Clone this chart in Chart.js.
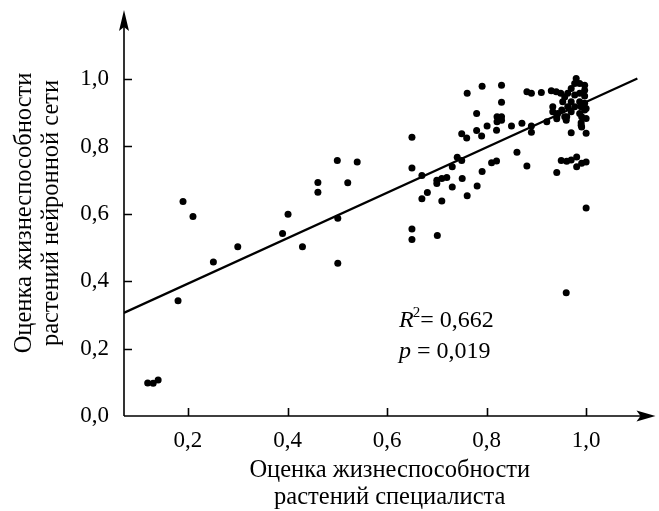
<!DOCTYPE html>
<html><head><meta charset="utf-8">
<script src="https://cdn.jsdelivr.net/npm/chart.js@4"></script>
<style>html,body{margin:0;padding:0;background:#fff}#wrap{width:659px;height:511px}</style>
</head><body><div id="wrap"><canvas id="c" width="659" height="511"></canvas></div>
<script>
// Specialist score (x) and neural-network score (y) for each plant
const specialist = [
 0.119,0.130,0.140,
 0.180,0.190,0.210,0.251,0.300,0.390,0.401,0.430,0.461,0.461,0.500,0.501,0.501,0.521,0.540,
 0.650,0.650,0.650,0.650,0.670,0.670,0.681,0.700,0.700,0.710,0.720,0.701,0.710,
 0.731,0.731,0.741,0.750,0.751,0.761,0.750,0.760,0.761,
 0.780,0.780,0.790,0.781,0.791,0.791,
 0.801,0.810,0.820,0.820,0.821,0.821,0.830,0.830,0.830,0.830,
 0.850,0.861,0.871,0.881,0.881,0.890,0.890,0.890,
 0.910,0.921,0.930,0.940,0.949,0.941,0.941,
 0.951,0.961,0.950,0.961,0.970,0.981,0.981,0.991,1.000,
 0.970,0.991,1.000,0.991,1.000,1.000,0.960,
 0.980,0.977,0.987,0.997,0.970,0.997,0.963,0.977,0.987,0.997,0.957,0.953,0.970,0.987,0.997,
 0.963,0.977,0.990,0.970,0.997,0.987,0.943,0.957,0.933,0.933,0.960,1.000,0.990,0.990,0.941
];
const network = [
 0.098,0.097,0.107,
 0.342,0.637,0.592,0.457,0.502,0.542,0.599,0.502,0.693,0.664,0.758,0.587,0.453,0.692,0.754,
 0.827,0.736,0.555,0.524,0.714,0.645,0.663,0.700,0.690,0.705,0.708,0.536,0.638,
 0.680,0.740,0.768,0.758,0.705,0.654,0.838,0.825,0.958,
 0.898,0.847,0.831,0.683,0.726,0.979,
 0.861,0.752,0.757,0.848,0.888,0.873,0.888,0.878,0.982,0.931,
 0.861,0.783,0.869,0.742,0.962,0.958,0.861,0.842,
 0.960,0.873,0.965,0.962,0.958,0.888,0.723,
 0.908,0.888,0.758,0.756,0.760,0.769,0.740,0.750,0.754,
 0.841,0.858,0.839,0.888,0.913,0.617,0.366,
 1.002,0.987,0.987,0.982,0.972,0.967,0.958,0.953,0.958,0.950,0.947,0.933,0.933,0.933,0.928,
 0.918,0.918,0.918,0.903,0.908,0.898,0.898,0.888,0.903,0.918,0.878,0.883,0.863,0.870,0.882
];
const trendX = [0.071, 1.103];
const trendY = [0.306, 1.002];
const xTickValues = [0.2, 0.4, 0.6, 0.8, 1.0];
const yTickValues = [0.0, 0.2, 0.4, 0.6, 0.8, 1.0];
const xTitle = ['Оценка жизнеспособности', 'растений специалиста'];
const yTitle = ['Оценка жизнеспособности', 'растений нейронной сети'];
const rSquaredText = '0,662';
const pValueText = '0,019';
const statsAnchor = {x: 0.624, y1: 0.264, y2: 0.172};

const FONT = '"Liberation Serif", "Times New Roman", serif';
const fmt = v => v.toFixed(1).replace('.', ',');

const points = specialist.map((v, i) => ({x: v, y: network[i]}));
const trend = trendX.map((v, i) => ({x: v, y: trendY[i]}));

const axesPlugin = {
  id: 'axesPlugin',
  afterDatasetsDraw(chart) {
    const {ctx, chartArea: {left, top, right}, scales: {x, y}} = chart;
    const y0 = y.getPixelForValue(0);
    const x0 = left;
    ctx.save();
    ctx.strokeStyle = '#000';
    ctx.fillStyle = '#000';
    ctx.lineWidth = 1.6;
    ctx.beginPath();
    ctx.moveTo(x0, y0); ctx.lineTo(right - 8, y0);
    ctx.moveTo(x0, y0); ctx.lineTo(x0, top + 8);
    xTickValues.forEach(v => { const px = Math.round(x.getPixelForValue(v)) + 0.5; ctx.moveTo(px, y0); ctx.lineTo(px, y0 - 8); });
    yTickValues.forEach(v => { if (v === 0) return; const py = Math.round(y.getPixelForValue(v)) + 0.5; ctx.moveTo(x0, py); ctx.lineTo(x0 + 8, py); });
    ctx.stroke();
    // arrow heads
    ctx.beginPath();
    ctx.moveTo(x0, top); ctx.lineTo(x0 + 5, top + 21); ctx.lineTo(x0, top + 17); ctx.lineTo(x0 - 5, top + 21); ctx.closePath();
    ctx.fill();
    ctx.beginPath();
    ctx.moveTo(right, y0); ctx.lineTo(right - 19, y0 - 5.5); ctx.lineTo(right - 15, y0); ctx.lineTo(right - 19, y0 + 5.5); ctx.closePath();
    ctx.fill();
    // statistics text
    const sx = x.getPixelForValue(statsAnchor.x);
    const sy1 = y.getPixelForValue(statsAnchor.y1);
    const sy2 = y.getPixelForValue(statsAnchor.y2);
    ctx.textBaseline = 'alphabetic';
    ctx.textAlign = 'left';
    ctx.font = 'italic 24px ' + FONT;
    ctx.fillText('R', sx, sy1);
    let w = ctx.measureText('R').width;
    ctx.font = '15px ' + FONT;
    ctx.fillText('2', sx + w - 1, sy1 - 10);
    w += ctx.measureText('2').width - 1;
    ctx.font = '24px ' + FONT;
    ctx.fillText('= ' + rSquaredText, sx + w, sy1);
    ctx.font = 'italic 24px ' + FONT;
    ctx.fillText('p', sx, sy2);
    const wp = ctx.measureText('p').width;
    ctx.font = '24px ' + FONT;
    ctx.fillText(' = ' + pValueText, sx + wp, sy2);
    ctx.restore();
  }
};

new Chart(document.getElementById('c'), {
  type: 'scatter',
  data: {
    datasets: [
      {type: 'line', data: trend, borderColor: '#000', borderWidth: 2.2, pointRadius: 0, fill: false, showLine: true},
      {data: points, backgroundColor: '#000', borderColor: '#000', borderWidth: 0, pointRadius: 3.5, pointHoverRadius: 3.5}
    ]
  },
  options: {
    responsive: false,
    animation: false,
    devicePixelRatio: 1,
    layout: {padding: {top: 10, right: 1, left: 0, bottom: 0}},
    plugins: {legend: {display: false}, tooltip: {enabled: false}},
    scales: {
      x: {
        type: 'linear', min: 0.0714, max: 1.1394,
        afterBuildTicks: s => { s.ticks = xTickValues.map(v => ({value: v})); },
        afterFit: s => { s.height = 95; s.paddingLeft = 0; s.paddingRight = 0; },
        grid: {display: false, drawTicks: false},
        border: {display: false},
        ticks: {callback: fmt, color: '#000', font: {family: FONT, size: 23}, padding: 11, maxRotation: 0, autoSkip: false},
        title: {display: true, text: xTitle, color: '#000', font: {family: FONT, size: 24.5, lineHeight: 1.1}, padding: {top: 0, bottom: 0}}
      },
      y: {
        type: 'linear', min: 0, max: 1.205,
        afterBuildTicks: s => { s.ticks = yTickValues.map(v => ({value: v})); },
        afterFit: s => { s.width = 124; s.paddingTop = 0; s.paddingBottom = 0; },
        grid: {display: false, drawTicks: false},
        border: {display: false},
        ticks: {callback: fmt, color: '#000', font: {family: FONT, size: 23}, padding: 15, autoSkip: false},
        title: {display: true, text: yTitle, color: '#000', font: {family: FONT, size: 24.5, lineHeight: 1.1}, padding: {top: 11.5, bottom: 0}}
      }
    }
  },
  plugins: [axesPlugin]
});
</script></body></html>
